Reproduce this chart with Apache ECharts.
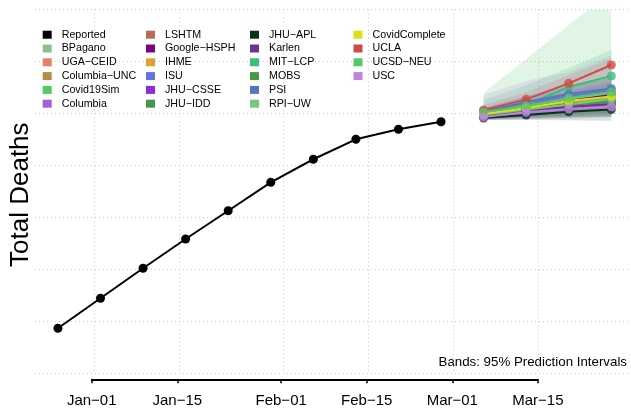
<!DOCTYPE html>
<html><head><meta charset="utf-8">
<script src="https://cdn.jsdelivr.net/npm/echarts@6/dist/echarts.min.js"></script>
<style>html,body{margin:0;padding:0;background:#fff}#c{width:631px;height:412px}</style>
</head><body><div id="c"></div>
<script>
// ---------------- data ----------------
const reportedDates = ['2020-12-26','2021-01-02','2021-01-09','2021-01-16','2021-01-23','2021-01-30','2021-02-06','2021-02-13','2021-02-20','2021-02-27'];
const reportedDeaths = [343700, 372500, 401400, 429500, 456700, 484000, 506200, 525400, 535000, 542300];

const forecastDates = ['2021-03-06','2021-03-13','2021-03-20','2021-03-27'];

const modelNames = ['BPagano','UGA\u2212CEID','Columbia\u2212UNC','Covid19Sim','Columbia',
  'LSHTM','Google\u2212HSPH','IHME','ISU','JHU\u2212CSSE','JHU\u2212IDD',
  'JHU\u2212APL','Karlen','MIT\u2212LCP','MOBS','PSI','RPI\u2212UW',
  'CovidComplete','UCLA','UCSD\u2212NEU','USC'];

const forecastMedian = [
  [550700, 557400, 564100, 569900], // BPagano
  [548800, 553600, 558400, 562200], // UGA-CEID
  [548800, 553600, 557400, 561300], // Columbia-UNC
  [549700, 555500, 561300, 563700], // Covid19Sim
  [546800, 550700, 554500, 557900], // Columbia
  [548800, 553100, 557400, 560300], // LSHTM
  [549700, 555200, 562200, 568000], // Google-HSPH
  [548800, 554500, 560300, 563200], // IHME
  [550700, 559300, 567000, 572300], // ISU
  [548800, 553600, 558400, 563200], // JHU-CSSE
  [549700, 554500, 559300, 562200], // JHU-IDD
  [545900, 548800, 551900, 554000], // JHU-APL
  [547800, 552600, 556400, 559300], // Karlen
  [552600, 558400, 575700, 586300], // MIT-LCP
  [548800, 553600, 559300, 561300], // MOBS
  [551600, 561300, 568900, 574200], // PSI
  [549200, 554100, 558900, 564100], // RPI-UW
  [549700, 555500, 562200, 566500], // CovidComplete
  [553600, 563800, 579200, 596800], // UCLA
  [551600, 557400, 565100, 570900], // UCSD-NEU
  [546800, 551400, 554500, 556700]  // USC
];
const forecastLower = [
  [545900, 546800, 548800, 550700],
  [545900, 547800, 549700, 551600],
  [545900, 546800, 547800, 549700],
  [545900, 547800, 550700, 551600],
  [543900, 544900, 545900, 546800],
  [544900, 545900, 546800, 547800],
  [545900, 547800, 550700, 553600],
  [545900, 549700, 553600, 555500],
  [546800, 550700, 555500, 559300],
  [545900, 546800, 547800, 548800],
  [545900, 547800, 549700, 550700],
  [543900, 544900, 545900, 546800],
  [544900, 546800, 548800, 550700],
  [544900, 545900, 547800, 549700],
  [544900, 545900, 546800, 547800],
  [546800, 551600, 557400, 563200],
  [545900, 546800, 547800, 548800],
  [545900, 547800, 550700, 553600],
  [547800, 551600, 561300, 570900],
  [543900, 543900, 543500, 543000],
  [543900, 543900, 543900, 543500]
];
const forecastUpper = [
  [555500, 565100, 574700, 584300],
  [551600, 558400, 565100, 570900],
  [551600, 558400, 564100, 569900],
  [553600, 562200, 570900, 577600],
  [550700, 557400, 563200, 568900],
  [552600, 560300, 567000, 573800],
  [553600, 562200, 571800, 580500],
  [551600, 558400, 565100, 569900],
  [555500, 567000, 577600, 586300],
  [552600, 559300, 566100, 571800],
  [552600, 560300, 568000, 573800],
  [547800, 551600, 555500, 558400],
  [550700, 557400, 562200, 567000],
  [563200, 577600, 593900, 611300],
  [552600, 560300, 568000, 574700],
  [555500, 567000, 576600, 584300],
  [552600, 559300, 566100, 572800],
  [552600, 560300, 568900, 575700],
  [558400, 570900, 587200, 603600],
  [569900, 602600, 635300, 667500],
  [568000, 581400, 590100, 606400]
];

const xTickDates = ['2021-01-01','2021-01-15','2021-02-01','2021-02-15','2021-03-01','2021-03-15'];

// ---------------- styles ----------------
const modelColors = ['#8fbe8c','#e08268','#b98b4b','#55c864','#a95ad6',
  '#b96a5a','#800080','#e0a032','#6473e2','#8c2be2','#469650',
  '#05321e','#6e3296','#3cbe78','#469a46','#5078c0','#78c878',
  '#dce114','#d74646','#55c864','#be82e1'];
const FONT = '"Liberation Sans", Arial, Helvetica, sans-serif';

const day0 = Date.UTC(2021, 0, 1);
function toDay(s) { const p = s.split('-').map(Number); return (Date.UTC(p[0], p[1]-1, p[2]) - day0) / 86400000; }
const MON = ['Jan','Feb','Mar','Apr','May','Jun','Jul','Aug','Sep','Oct','Nov','Dec'];
function fmtDay(v) { const d = new Date(day0 + Math.round(v) * 86400000); const dd = d.getUTCDate(); return MON[d.getUTCMonth()] + '\u2212' + (dd < 10 ? '0' : '') + dd; }
function rgba(hex, a) { const n = parseInt(hex.slice(1), 16); return 'rgba(' + (n >> 16) + ',' + ((n >> 8) & 255) + ',' + (n & 255) + ',' + a + ')'; }

// layout
const W = 631, GL = 32, GR = 0, GT = 9.7, GB = 38.3;
const XMIN = -9.77, XMAX = 88.24;
const gridW = W - GL - GR;
function px(d) { return GL + (d - XMIN) / (XMAX - XMIN) * gridW; }
const tickDays = xTickDates.map(toDay);
const axStart = tickDays[0], axEnd = tickDays[tickDays.length - 1];

const fDays = forecastDates.map(toDay);
const series = [];
// bands
modelNames.forEach(function (name, i) {
  series.push({
    type: 'custom', name: name + ' band', xAxisIndex: 0, yAxisIndex: 0, z: 1, silent: true, clip: true,
    data: fDays.map(function (x, k) { return [x, forecastLower[i][k], forecastUpper[i][k]]; }),
    encode: { x: 0, y: [1, 2] },
    renderItem: function (params, api) {
      if (params.dataIndex !== 0) return null;
      const top = fDays.map(function (x, k) { return api.coord([x, forecastUpper[i][k]]); });
      const bot = fDays.map(function (x, k) { return api.coord([x, forecastLower[i][k]]); }).reverse();
      const cs = params.coordSys;
      return { type: 'polygon', shape: { points: top.concat(bot) }, style: { fill: rgba(modelColors[i], 0.18), stroke: null },
        clipPath: { type: 'rect', shape: { x: cs.x, y: cs.y, width: cs.width, height: cs.height } } };
    }
  });
});
// reported
series.push({
  type: 'line', name: 'Reported', xAxisIndex: 0, yAxisIndex: 0, z: 3,
  data: reportedDates.map(function (d, k) { return [toDay(d), reportedDeaths[k]]; }),
  symbol: 'circle', symbolSize: 9, showSymbol: true,
  lineStyle: { color: '#000', width: 2 }, itemStyle: { color: '#000' }, emphasis: { disabled: true }
});
// forecast lines
modelNames.forEach(function (name, i) {
  series.push({
    type: 'line', name: name, xAxisIndex: 0, yAxisIndex: 0, z: 2,
    data: fDays.map(function (x, k) { return [x, forecastMedian[i][k]]; }),
    symbol: 'circle', symbolSize: 9,
    lineStyle: { color: modelColors[i], width: 2 },
    itemStyle: { color: modelColors[i], opacity: 0.8 }, emphasis: { disabled: true }
  });
});

const allNames = ['Reported'].concat(modelNames);
const colLeft = [42.7, 146, 250, 353.5];
const legends = [0, 1, 2, 3].map(function (c) {
  return {
    orient: 'vertical', left: colLeft[c], top: 28.7, padding: 0,
    itemWidth: 9, itemHeight: 8, itemGap: 1.8, icon: 'rect', selectedMode: false,
    itemStyle: { opacity: 1 },
    textStyle: { fontSize: 10.7, lineHeight: 12, color: '#000', fontFamily: FONT, padding: [0, 0, 0, 5] },
    data: allNames.slice(c * 6, c * 6 + 6)
  };
});

const chart = echarts.init(document.getElementById('c'), null, { renderer: 'canvas' });
chart.setOption({
  animation: false,
  backgroundColor: '#fff',
  textStyle: { fontFamily: FONT },
  legend: legends,
  grid: [
    { left: GL, right: GR, top: GT, bottom: GB, containLabel: false },
    { left: px(axStart), right: W - px(axEnd), bottom: 32.7, height: 1, containLabel: false }
  ],
  xAxis: [
    { type: 'value', gridIndex: 0, min: XMIN, max: XMAX,
      axisLine: { show: false }, axisLabel: { show: false },
      axisTick: { show: false, customValues: tickDays },
      splitLine: { show: true, lineStyle: { color: '#c8c8c8', width: 1, type: [1, 3] } } },
    { type: 'value', gridIndex: 1, min: axStart, max: axEnd, position: 'bottom',
      axisLine: { show: true, lineStyle: { color: '#000', width: 1.8 } },
      axisTick: { show: true, inside: false, length: 4, lineStyle: { color: '#000', width: 1.5 }, customValues: tickDays },
      axisLabel: { show: true, customValues: tickDays, formatter: fmtDay, color: '#000', fontSize: 15, margin: 14.5, fontFamily: FONT },
      splitLine: { show: false } }
  ],
  yAxis: [
    { type: 'value', gridIndex: 0, min: 300000, max: 650000, interval: 50000,
      axisLine: { show: false }, axisTick: { show: false }, axisLabel: { show: false },
      splitLine: { show: true, lineStyle: { color: '#c8c8c8', width: 1, type: [1, 3] } },
      name: 'Total Deaths', nameLocation: 'middle', nameGap: 1,
      nameTextStyle: { fontSize: 26, color: '#000', fontFamily: FONT, padding: [0, 6, 0, 0] } },
    { type: 'value', gridIndex: 1, show: false }
  ],
  graphic: [
    { type: 'text', right: 4, top: 355.5, silent: true,
      style: { text: 'Bands: 95% Prediction Intervals', fontSize: 13.3, fill: '#000', fontFamily: FONT } }
  ],
  series: series
});
</script>
</body></html>
